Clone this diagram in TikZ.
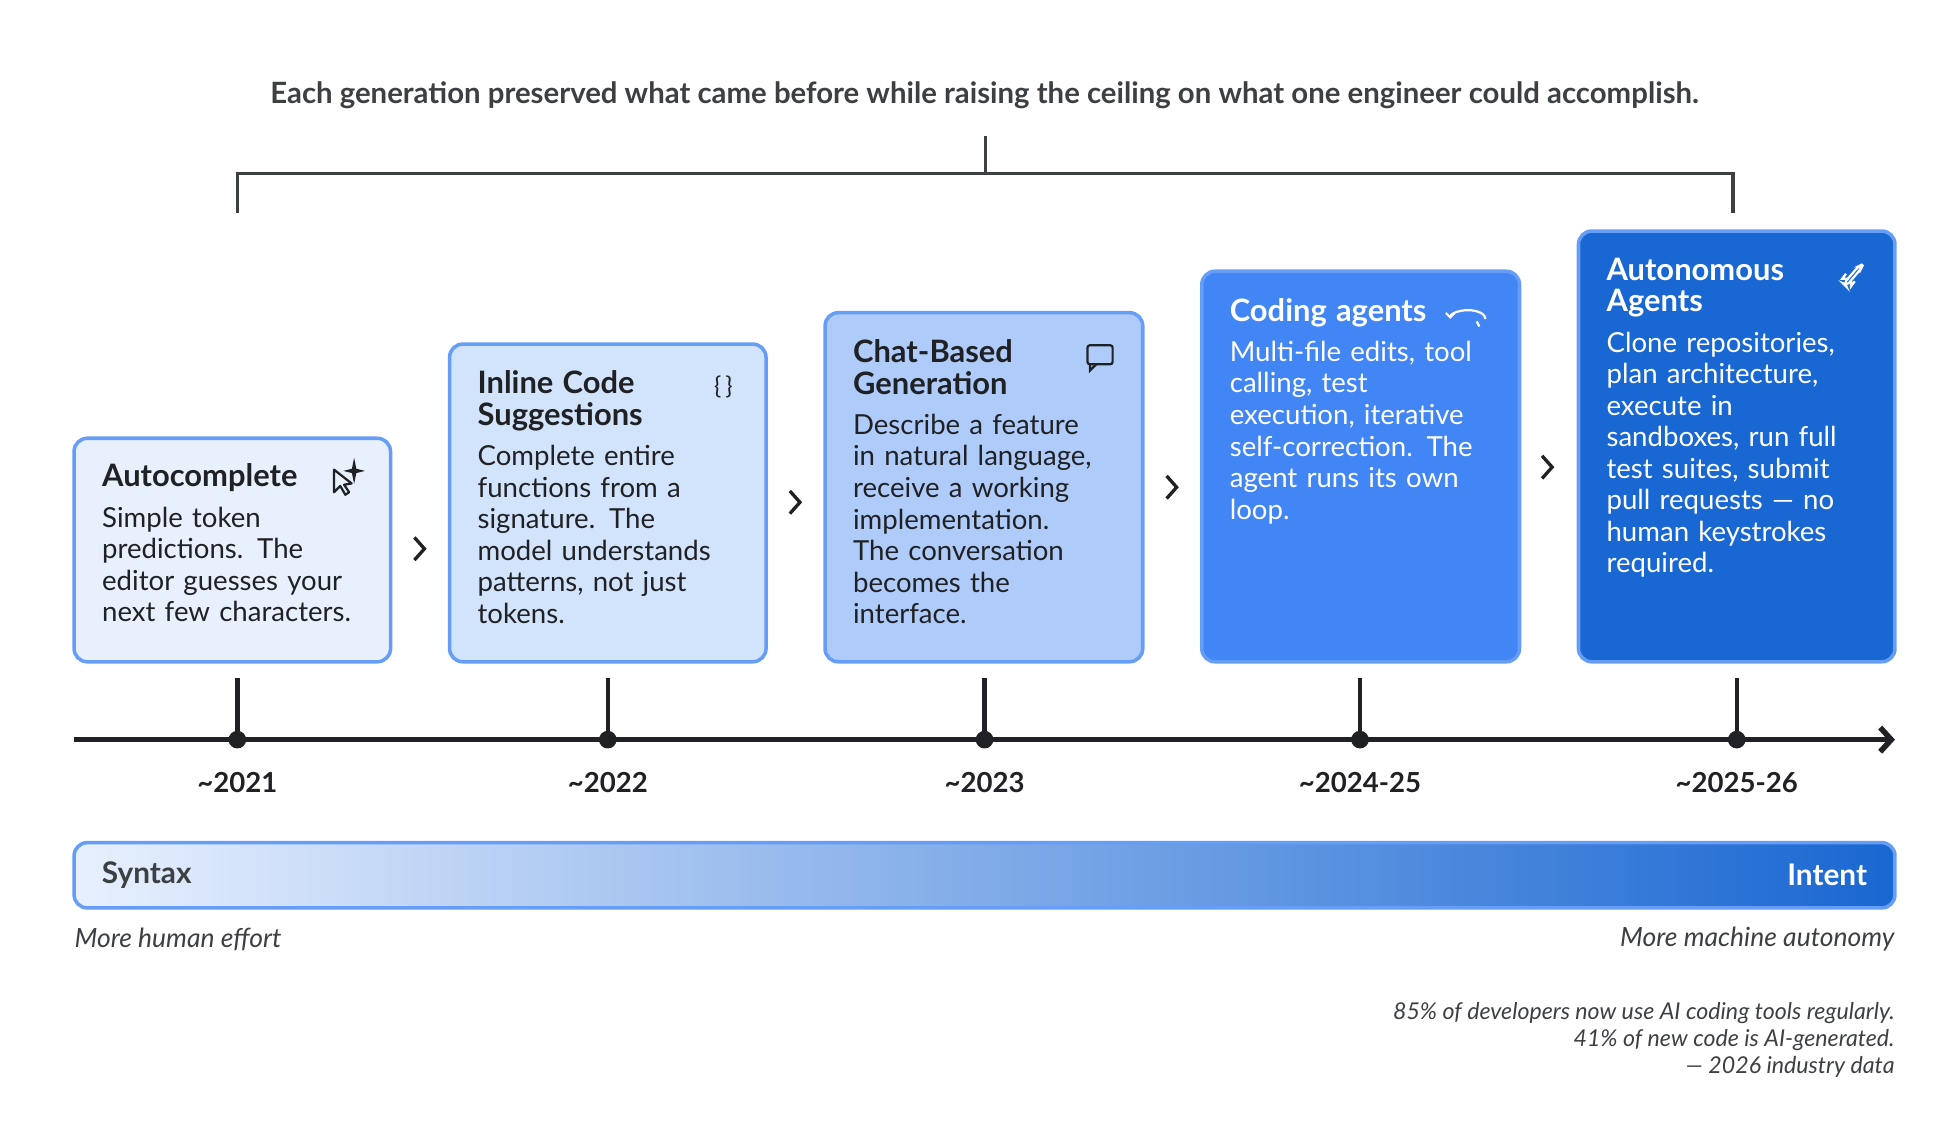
\documentclass[tikz,border=0pt]{standalone}
\usepackage{fontspec}
\setmainfont{Lato}
\usetikzlibrary{positioning,arrows.meta,calc}
\definecolor{ink}{HTML}{202124}
\definecolor{grayt}{HTML}{3C4043}
\definecolor{bone}{HTML}{E8F0FE}
\definecolor{btwo}{HTML}{D2E3FC}
\definecolor{bthree}{HTML}{AECBFA}
\definecolor{bfour}{HTML}{4285F4}
\definecolor{bfive}{HTML}{1967D2}
\definecolor{edgeb}{HTML}{669DF6}
\newcommand\stagehd{\bfseries\fontsize{14}{14.3}\selectfont}
\newcommand\stagebody{\mdseries\fontsize{12.5}{14.3}\selectfont}
\tikzset{
	stage/.style={draw=edgeb,line width=1.6pt,rounded corners=6pt},
	stagetext/.style={anchor=north west,align=left,inner sep=0pt,text width=4.5cm,font=\stagebody},
	step/.style={-{Straight Barb[length=4pt,width=9pt]},line width=1.3pt,color=ink},
	tick/.style={line width=2pt,color=ink},
	year/.style={font=\bfseries\fontsize{12.5}{14}\selectfont,color=ink},
	note/.style={font=\itshape\fontsize{12}{14}\selectfont,color=grayt,inner sep=0pt},
	icon/.style={line width=1pt}
}
\begin{document}
\begin{tikzpicture}[x=0.02cm,y=-0.02cm]
	\useasboundingbox (0,0) rectangle (1560,909);
	
	%% header and bracket
	\node[font=\bfseries\fontsize{13.3}{15}\selectfont,color=grayt] (head) at (784,76) {Each generation preserved what came before while raising the ceiling on what one engineer could accomplish.};
	\coordinate (bl) at (189,170);
	\coordinate (br) at (1380,170);
	\coordinate (bm) at (785,108);
	\draw[line width=1.4pt,color=grayt] (bl) |- (br |- 0,138) -- (br);
	\draw[line width=1.4pt,color=grayt] (bm) -- (bm |- 0,138);
	
	%% stage boxes
	\draw[stage,fill=bone] (59,349) rectangle (311,527);
	\draw[stage,fill=btwo] (358,274) rectangle (610,527);
	\draw[stage,fill=bthree] (657,249) rectangle (910,527);
	\draw[stage,fill=bfour] (957,216) rectangle (1210,527);
	\draw[stage,fill=bfive] (1257,184) rectangle (1509,527);
	
	%% stage texts
	\node[stagetext,color=ink] (s1) at (81,369) {\stagehd Autocomplete\\[4pt]\stagebody Simple token\\predictions. The\\editor guesses your\\next few characters.};
	\node[stagetext,color=ink] (s2) at (380,295) {\stagehd Inline Code\\Suggestions\\[4pt]\stagebody Complete entire\\functions from a\\signature. The\\model understands\\patterns, not just\\tokens.};
	\node[stagetext,color=ink] (s3) at (679,270) {\stagehd Chat-Based\\Generation\\[4pt]\stagebody Describe a feature\\in natural language,\\receive a working\\implementation.\\The conversation\\becomes the\\interface.};
	\node[stagetext,color=white] (s4) at (979,237) {\stagehd Coding agents\\[4pt]\stagebody Multi-file edits, tool\\calling, test\\execution, iterative\\self-correction. The\\agent runs its own\\loop.};
	\node[stagetext,color=white] (s5) at (1279,205) {\stagehd Autonomous\\Agents\\[4pt]\stagebody Clone repositories,\\plan architecture,\\execute in\\sandboxes, run full\\test suites, submit\\pull requests — no\\human keystrokes\\required.};
	
	%% icons
	\draw[icon,color=ink,line join=round] (266,374) -- (266,392) -- (271,387) -- (275,394) -- (278,392) -- (274,386) -- (280,385) -- cycle;
	\draw[icon,color=ink,fill=ink] (282,369) -- (283,374) -- (287,375) -- (283,376) -- (282,381) -- (281,376) -- (277,375) -- (281,374) -- cycle;
	\node[color=ink,font=\fontsize{11}{11}\selectfont,inner sep=0pt] (braces) at (576,308) {\{\,\}};
	\draw[icon,color=ink,rounded corners=1pt] (866,275) rectangle (886,290);
	\draw[icon,color=ink] (868,290) -- (868,295) -- (873,290);
	\draw[icon,color=white,-{Straight Barb[length=2pt,width=4pt]}] (1183,254) arc (0:180:8pt and 4pt);
	\draw[icon,color=white] (1176,256) -- (1178,260);
	\draw[icon,color=white,rounded corners=2pt] (1468,226) -- (1480,212) -- (1484,210) -- (1482,214) -- (1470,228) -- cycle;
	\draw[icon,color=white] (1470,218) -- (1467,222) -- (1472,222);
	\draw[icon,color=white] (1477,224) -- (1474,228) -- (1474,223);
	
	%% chevrons between stages
	\foreach \cx/\cy in {334/437,633/400,933/388,1232/372}
		\draw[line width=1.5pt,color=ink] (\cx-4,\cy-9) -- (\cx+4,\cy) -- (\cx-4,\cy+9);
	
	%% timeline
	\coordinate (tl) at (59,589);
	\coordinate (tr) at (1509,589);
	\draw[line width=2.5pt,color=ink,-{Straight Barb[length=5pt,width=11pt]}] (tl) -- (tr);
	\foreach \tx/\ty in {189/{\textasciitilde2021},484/{\textasciitilde2022},784/{\textasciitilde2023},1083/{\textasciitilde2024-25},1383/{\textasciitilde2025-26}}{
		\draw[tick] (\tx,540) -- (\tx,589);
		\fill[ink] (\tx,589) circle (4pt);
		\node[year] at (\tx,623) {\ty};
	}
	
	%% syntax to intent bar
	\draw[draw=edgeb,line width=1.6pt,rounded corners=6pt,left color=bone,right color=bfive] (59,671) rectangle (1509,723);
	\node[anchor=west,font=\bfseries\fontsize{13.5}{14}\selectfont,color=grayt] (syn) at (75,697) {Syntax};
	\node[anchor=east,font=\bfseries\fontsize{13.5}{14}\selectfont,color=white] (int) at (1493,697) {Intent};
	\node[note,anchor=west] (human) at (59,748) {More human effort};
	\node[note,anchor=east] (machine) at (1509,748) {More machine autonomy};
	
	%% footer
	\node[note,anchor=north east,align=right,font=\itshape\fontsize{10.5}{12.3}\selectfont] (foot) at (1509,798) {85\% of developers now use AI coding tools regularly.\\41\% of new code is AI-generated.\\— 2026 industry data};
\end{tikzpicture}
\end{document}
